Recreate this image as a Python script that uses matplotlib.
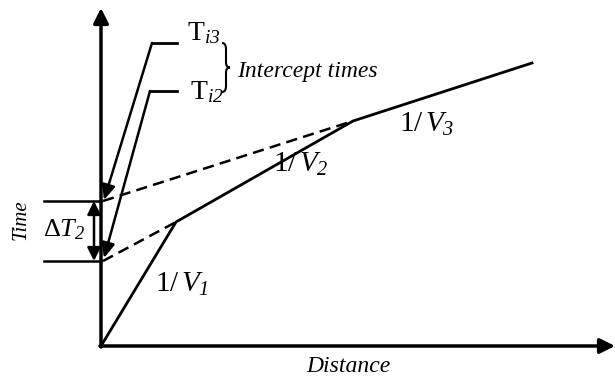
import numpy as np
import matplotlib.pyplot as plt
from matplotlib.path import Path
from matplotlib.patches import PathPatch

plt.rcParams['font.family'] = ['Liberation Serif', 'DejaVu Serif']
plt.rcParams['mathtext.fontset'] = 'custom'
plt.rcParams['mathtext.rm'] = 'Liberation Serif'
plt.rcParams['mathtext.it'] = 'Liberation Serif:italic'
# mathtext draws digits of \mathit upright, so borrow the sf slot for italic digits
plt.rcParams['mathtext.sf'] = 'Liberation Serif:italic'

# travel-time curve (distance, time)
dist_pts = [0, 75, 252, 431]
time_pts = [0, 124, 225, 283]

# intercept times on the time axis
t_i2 = 85
t_i3 = 145

# leader lines for the intercept labels: horizontal part and arrow tip
lead3_x = [51, 76]
lead3_y = [303, 303]
lead2_x = [49, 76]
lead2_y = [255, 255]
tip3 = (3, 146)
tip2 = (3, 88)

segment_labels = [r'$1/\,V_{\mathsf{1}}$', r'$1/\,V_{\mathsf{2}}$', r'$1/\,V_{\mathsf{3}}$']
label_pos = [(81, 62), (200, 182), (326, 222)]

fig = plt.figure(figsize=(6.15, 3.79), dpi=100)
ax = fig.add_axes([0, 0, 1, 1])
ax.set_xlim(-101, 514)
ax.set_ylim(-33, 346)
ax.axis('off')

# axes with arrows
ax.annotate('', xy=(514, 0), xytext=(-1, 0),
            arrowprops=dict(arrowstyle='-|>,head_length=0.9,head_width=0.45', lw=2.5, color='black',
                            shrinkA=0, shrinkB=0))
ax.annotate('', xy=(0, 338), xytext=(0, -1),
            arrowprops=dict(arrowstyle='-|>,head_length=0.9,head_width=0.45', lw=2.5, color='black',
                            shrinkA=0, shrinkB=0))

# travel-time segments
ax.plot(dist_pts, time_pts, color='black', lw=2, solid_joinstyle='miter')

# dashed extensions back to the time axis
ax.plot([2, dist_pts[1]], [t_i2, time_pts[1]], color='black', lw=1.8, ls=(0, (4.5, 2.5)))
ax.plot([2, dist_pts[2]], [t_i3, time_pts[2]], color='black', lw=1.8, ls=(0, (4.5, 2.5)))

# delta T bracket
ax.plot([-57, 0], [t_i3, t_i3], color='black', lw=1.8)
ax.plot([-57, 0], [t_i2, t_i2], color='black', lw=1.8)
ax.annotate('', xy=(-7, t_i3), xytext=(-7, t_i2),
            arrowprops=dict(arrowstyle='<|-|>,head_length=0.8,head_width=0.4', lw=1.8, color='black',
                            shrinkA=0, shrinkB=0))
ax.text(-37, 116, r'$\Delta T_{\mathsf{2}}$', fontsize=19, ha='center', va='center')

# leaders for intercept labels
for lx, ly, tip in [(lead3_x, lead3_y, tip3), (lead2_x, lead2_y, tip2)]:
    ax.plot(lx, ly, color='black', lw=2)
    ax.annotate('', xy=tip, xytext=(lx[0], ly[0]),
                arrowprops=dict(arrowstyle='-|>,head_length=0.9,head_width=0.4', lw=1.8, color='black',
                                shrinkA=0, shrinkB=0))

ax.text(86, 313, r'$\mathrm{T}_{\mathsf{i3}}$', fontsize=20, ha='left', va='center')
ax.text(89, 254, r'$\mathrm{T}_{\mathsf{i2}}$', fontsize=20, ha='left', va='center')

# curly brace grouping the two intercept times
bx, btop, bbot = 125, 303, 254
bmid = (btop + bbot) / 2
verts = [(bx - 4, btop), (bx, btop), (bx, btop - 6),
         (bx, bmid + 5),
         (bx, bmid), (bx + 4, bmid),
         (bx, bmid), (bx, bmid - 5),
         (bx, bbot + 6),
         (bx, bbot), (bx - 4, bbot)]
codes = [Path.MOVETO, Path.CURVE3, Path.CURVE3,
         Path.LINETO,
         Path.CURVE3, Path.CURVE3,
         Path.CURVE3, Path.CURVE3,
         Path.LINETO,
         Path.CURVE3, Path.CURVE3]
ax.add_patch(PathPatch(Path(verts, codes), facecolor='none', edgecolor='black', lw=1.5))

ax.text(136, 274, 'Intercept times', fontsize=17, style='italic', ha='left', va='center')

for lab, (x, y) in zip(segment_labels, label_pos):
    ax.text(x, y, lab, fontsize=21, ha='center', va='center')

ax.text(247, -21, 'Distance', fontsize=17, style='italic', ha='center', va='center')
ax.text(-80, 126, 'Time', fontsize=15, style='italic', rotation=90, ha='center', va='center')

fig.savefig('out.png', dpi=100)
